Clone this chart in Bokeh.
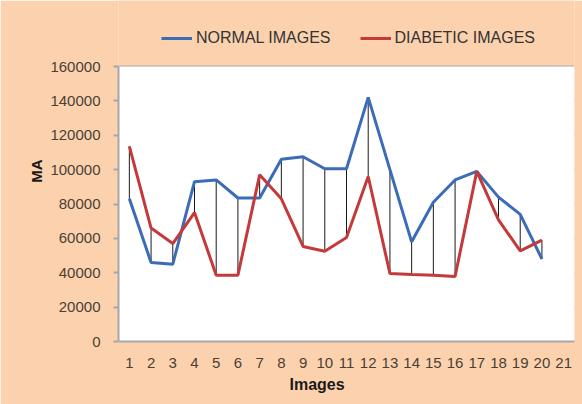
from bokeh.plotting import figure
from bokeh.models import (Range1d, FixedTicker, Legend, LegendItem, Title, BasicTickFormatter,
                          BoxAnnotation)
from bokeh.embed import file_html
from bokeh.resources import INLINE

# ---- data ----
images = list(range(1, 21))
x_ticks = list(range(1, 22))
normal_images = [83000, 46000, 45000, 93000, 94000, 83500, 83500, 106000, 107500, 100500,
                 100500, 142000, 100000, 58000, 81000, 94000, 99000, 84000, 74000, 48000]
diabetic_images = [113500, 66000, 57000, 75000, 38600, 38600, 97000, 83000, 55300, 52500,
                   60500, 96000, 39500, 39000, 38600, 37800, 99000, 70800, 52700, 59000]
y_ticks = [0, 20000, 40000, 60000, 80000, 100000, 120000, 140000, 160000]
series_names = ["NORMAL IMAGES", "DIABETIC IMAGES"]

ORANGE = "#fcd2ae"
W, H = 582, 404
TOP_PX, BOT_PX = 66, 341          # pixel rows of 160000 and 0
y_max = y_ticks[-1]
y_top = y_max * BOT_PX / (BOT_PX - TOP_PX)   # frame extends to the top of the canvas

p = figure(width=W, height=H, output_backend="svg", toolbar_location=None,
           x_range=Range1d(0.5, 21.5), y_range=Range1d(0, y_top),
           min_border_left=118, min_border_right=8, min_border_top=0,
           min_border_bottom=H - BOT_PX,
           background_fill_color=ORANGE, border_fill_color=ORANGE,
           outline_line_color=None)

# white plotting area (value range 0 .. 160000)
p.add_layout(BoxAnnotation(top=y_max, fill_color="white", fill_alpha=1,
                           line_color=None, level="underlay"))

# axes
p.xaxis.ticker = FixedTicker(ticks=x_ticks)
p.yaxis.ticker = FixedTicker(ticks=y_ticks)
p.yaxis.bounds = (0, y_max)
p.yaxis.formatter = BasicTickFormatter(use_scientific=False)
for ax in (p.xaxis[0], p.yaxis[0]):
    ax.axis_line_color = "#a8a8a8"
    ax.axis_line_width = 2
    ax.major_label_text_font = "Liberation Sans"
    ax.major_label_text_font_size = "15px"
    ax.major_label_text_color = "#4a3f35"
    ax.minor_tick_line_color = None
p.xaxis.major_tick_line_color = None
p.xaxis.major_tick_out = 0
p.xaxis.major_tick_in = 0
p.xaxis.major_label_standoff = 16
p.yaxis.major_tick_line_color = "#a8a8a8"
p.yaxis.major_tick_line_width = 2
p.yaxis.major_tick_out = 5
p.yaxis.major_tick_in = 0
p.yaxis.major_label_standoff = 13
p.yaxis.axis_label = "MA"
p.yaxis.axis_label_text_font = "Liberation Sans"
p.yaxis.axis_label_text_font_style = "bold"
p.yaxis.axis_label_text_font_size = "15px"
p.yaxis.axis_label_text_color = "#1a1a1a"
p.yaxis.axis_label_standoff = 2

p.xgrid.grid_line_color = None
p.ygrid.grid_line_color = "#a8a8a8"
p.ygrid.grid_line_width = 2

# high-low lines
p.segment(x0=images, y0=normal_images, x1=images, y1=diabetic_images,
          line_color="#1a1a1a", line_width=1)

r_norm = p.line(images, normal_images, line_color="#3b6cb7", line_width=3)
r_diab = p.line(images, diabetic_images, line_color="#c43a3a", line_width=3)

legend = Legend(items=[LegendItem(label=series_names[0], renderers=[r_norm]),
                       LegendItem(label=series_names[1], renderers=[r_diab])],
                orientation="horizontal", location=(43, 293),
                background_fill_alpha=0, border_line_color=None,
                padding=0, margin=0, spacing=29, glyph_width=31, label_standoff=4,
                label_text_font="Liberation Sans", label_text_font_size="16px",
                label_text_color="#333333")
p.add_layout(legend, "center")

p.add_layout(Title(text="Images", align="left", offset=171, standoff=7,
                   text_font="Liberation Sans", text_font_style="bold",
                   text_font_size="16px", text_color="#1a1a1a"), "below")

open("out.html", "w").write(file_html(p, INLINE))
